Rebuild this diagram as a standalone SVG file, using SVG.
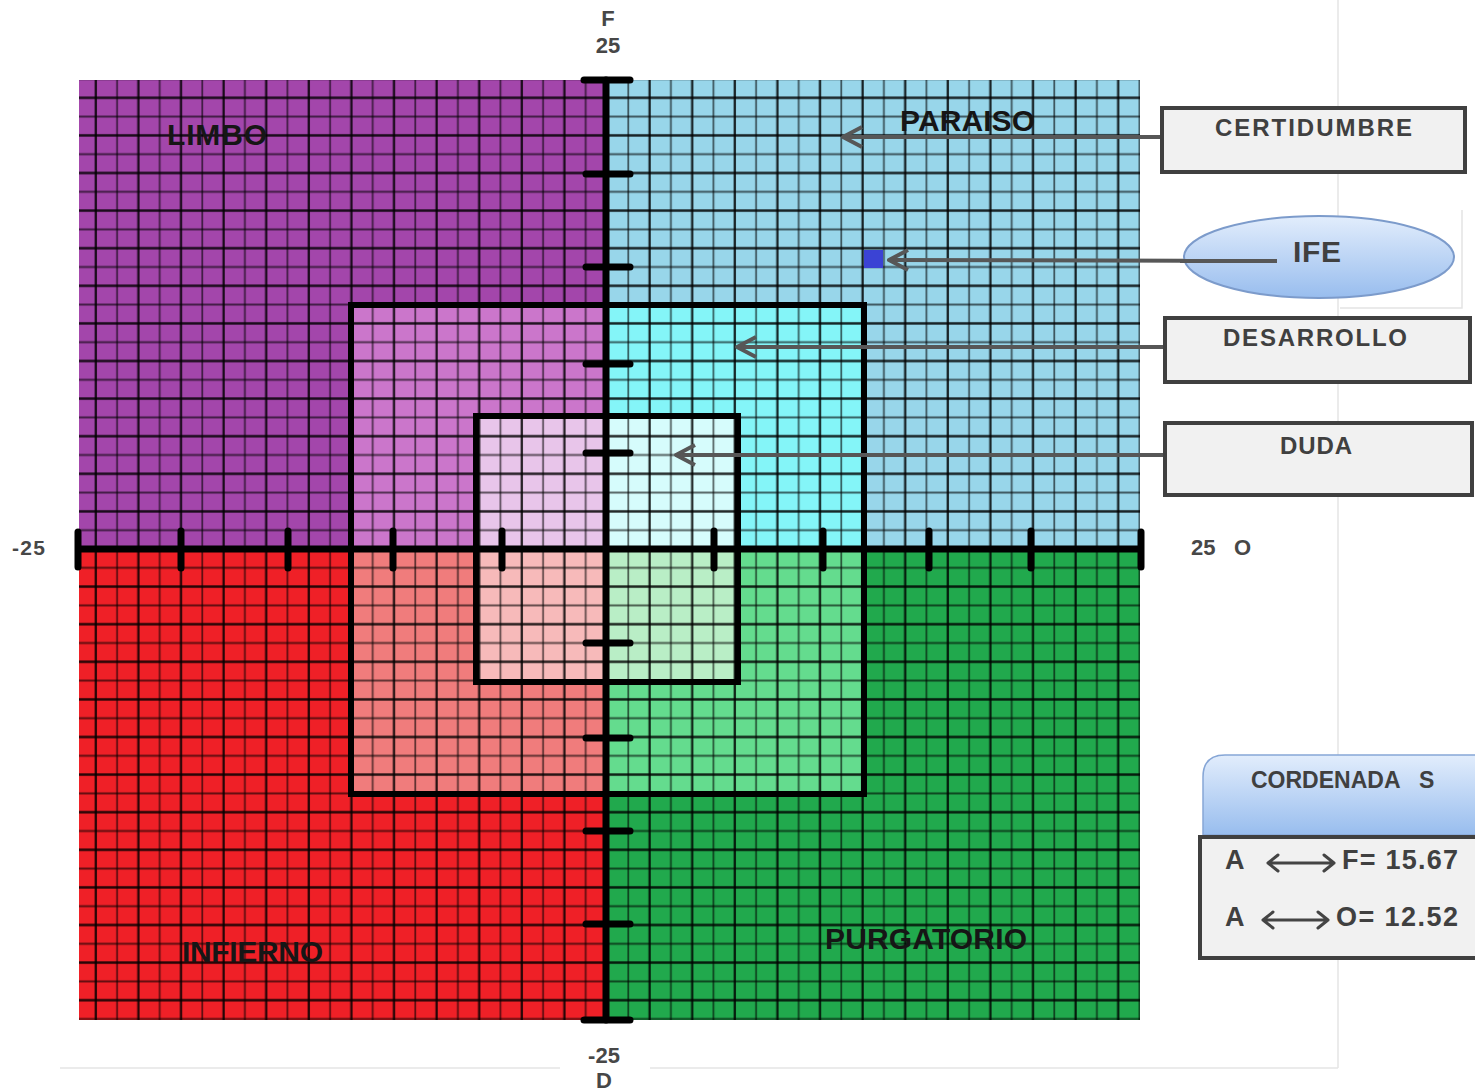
<svg xmlns="http://www.w3.org/2000/svg" width="1475" height="1091" viewBox="0 0 1475 1091">
  <defs>
    <style>
      .q{font-family:"Liberation Sans",Arial,sans-serif;font-weight:bold;font-size:30px;fill:#161616}
      .ax{font-family:"Liberation Sans",Arial,sans-serif;font-weight:bold;font-size:22px;fill:#474747}
      .lbl{font-family:"Liberation Sans",Arial,sans-serif;font-weight:bold;font-size:24px;fill:#404040}
      .val{font-family:"Liberation Sans",Arial,sans-serif;font-weight:bold;font-size:27px;fill:#404040}
      .box{fill:#f1f1f1;stroke:#404040;stroke-width:4}
      .con{stroke:#575757;stroke-width:4;fill:none;marker-end:url(#chev)}
      .frame{fill:none;stroke:#000;stroke-width:6}
      .axis{stroke:#000;stroke-width:7;stroke-linecap:round}
      .dbl{stroke:#444;stroke-width:3;fill:none;stroke-linecap:round;stroke-linejoin:round}
      .faint{stroke:#e4e4e4;stroke-width:1.5;fill:none}
    </style>
    <!-- two-cell grid tile: darker line on even units, lighter on odd -->
    <pattern id="grid" patternUnits="userSpaceOnUse" x="596.35" y="539.6" width="42.6" height="37.6">
      <line x1="10.65" y1="0" x2="10.65" y2="37.6" stroke="#000" stroke-width="2.3" stroke-opacity="0.85"/>
      <line x1="31.95" y1="0" x2="31.95" y2="37.6" stroke="#000" stroke-width="1.8" stroke-opacity="0.6"/>
      <line x1="0" y1="9.4" x2="42.6" y2="9.4" stroke="#000" stroke-width="2.3" stroke-opacity="0.85"/>
      <line x1="0" y1="28.2" x2="42.6" y2="28.2" stroke="#000" stroke-width="1.8" stroke-opacity="0.6"/>
    </pattern>
    <marker id="chev" markerUnits="userSpaceOnUse" viewBox="-24 -14 28 28" markerWidth="28" markerHeight="28" refX="0" refY="0" orient="auto">
      <path d="M-19,-10 L0,0 L-19,10" fill="none" stroke="#575757" stroke-width="4" stroke-linejoin="round"/>
    </marker>
    <linearGradient id="blueFill" x1="0" y1="0" x2="0" y2="1">
      <stop offset="0" stop-color="#e2edfc"/>
      <stop offset="1" stop-color="#98bdee"/>
    </linearGradient>
  </defs>

  <!-- faint page rules -->
  <g id="page-rules">
    <line class="faint" x1="1338" y1="0" x2="1338" y2="1068"/>
    <line class="faint" x1="60" y1="1068" x2="560" y2="1068"/>
    <line class="faint" x1="650" y1="1068" x2="1338" y2="1068"/>
    <polyline class="faint" points="1340,308 1462,308 1462,210"/>
  </g>

  <!-- quadrant plane -->
  <g id="plane">
    <rect x="79" y="80" width="527" height="469" fill="#A346AB"/>
    <rect x="606" y="80" width="534" height="469" fill="#98D6EA"/>
    <rect x="79" y="549" width="527" height="471" fill="#EF2027"/>
    <rect x="606" y="549" width="534" height="471" fill="#21A94D"/>

    <!-- middle square -->
    <rect x="351" y="305" width="255" height="244" fill="#CB76CB"/>
    <rect x="606" y="305" width="258" height="244" fill="#84F5F8"/>
    <rect x="351" y="549" width="255" height="245" fill="#F07C7C"/>
    <rect x="606" y="549" width="258" height="245" fill="#64DC8E"/>

    <!-- inner square -->
    <rect x="476" y="416" width="130" height="133" fill="#E8C5EA"/>
    <rect x="606" y="416" width="132" height="133" fill="#D6FCFC"/>
    <rect x="476" y="549" width="130" height="133" fill="#F7BABA"/>
    <rect x="606" y="549" width="132" height="133" fill="#B9EEC6"/>

    <rect x="79" y="80" width="1061" height="940" fill="url(#grid)"/>

    <rect class="frame" x="351" y="305" width="513" height="489"/>
    <rect class="frame" x="476" y="416" width="262" height="266"/>
  </g>

  <!-- axes with ticks -->
  <g id="axes">
    <line class="axis" x1="79" y1="549" x2="1140" y2="549"/>
    <line class="axis" x1="606" y1="80" x2="606" y2="1020"/>
    <!-- end caps -->
    <line class="axis" x1="584" y1="80" x2="630" y2="80"/>
    <line class="axis" x1="584" y1="1020" x2="630" y2="1020"/>
    <line class="axis" x1="78" y1="532" x2="78" y2="567"/>
    <line class="axis" x1="1141" y1="532" x2="1141" y2="567"/>
    <!-- x ticks -->
    <line class="axis" x1="181" y1="531" x2="181" y2="568"/>
    <line class="axis" x1="288" y1="531" x2="288" y2="568"/>
    <line class="axis" x1="393" y1="531" x2="393" y2="568"/>
    <line class="axis" x1="502" y1="531" x2="502" y2="568"/>
    <line class="axis" x1="714" y1="531" x2="714" y2="568"/>
    <line class="axis" x1="823" y1="531" x2="823" y2="568"/>
    <line class="axis" x1="929" y1="531" x2="929" y2="568"/>
    <line class="axis" x1="1031" y1="531" x2="1031" y2="568"/>
    <!-- y ticks -->
    <line class="axis" x1="586" y1="174" x2="630" y2="174"/>
    <line class="axis" x1="586" y1="267" x2="630" y2="267"/>
    <line class="axis" x1="586" y1="364" x2="630" y2="364"/>
    <line class="axis" x1="586" y1="453" x2="630" y2="453"/>
    <line class="axis" x1="586" y1="643" x2="630" y2="643"/>
    <line class="axis" x1="586" y1="738" x2="630" y2="738"/>
    <line class="axis" x1="586" y1="831" x2="630" y2="831"/>
    <line class="axis" x1="586" y1="924" x2="630" y2="924"/>
  </g>

  <!-- axis labels -->
  <g id="axis-labels">
    <text class="ax" x="608" y="26" text-anchor="middle">F</text>
    <text class="ax" x="608" y="53" text-anchor="middle">25</text>
    <text class="ax" x="12" y="555" style="font-size:21px" textLength="33">-25</text>
    <text class="ax" x="1191" y="555">25</text>
    <text class="ax" x="1234" y="555">O</text>
    <text class="ax" x="604" y="1063" text-anchor="middle">-25</text>
    <text class="ax" x="604" y="1088" text-anchor="middle">D</text>
  </g>

  <!-- quadrant names -->
  <g id="quadrant-names">
    <text class="q" x="167" y="145" textLength="100">LIMBO</text>
    <text class="q" x="900" y="131" textLength="135">PARAISO</text>
    <text class="q" x="182" y="962" textLength="141">INFIERNO</text>
    <text class="q" x="825" y="949" textLength="202">PURGATORIO</text>
  </g>

  <!-- IFE position point -->
  <rect id="ife-point" x="864" y="250" width="19" height="18" fill="#3B43D4"/>

  <!-- connectors -->
  <g id="connectors">
    <line class="con" x1="1162" y1="137" x2="843" y2="137"/>
    <line class="con" x1="1277" y1="261" x2="889" y2="260"/>
    <line class="con" x1="1165" y1="347" x2="737" y2="347"/>
    <line class="con" x1="1165" y1="455" x2="676" y2="455"/>
  </g>

  <g id="node-certidumbre">
    <rect class="box" x="1162" y="108" width="303" height="64"/>
    <text class="lbl" x="1215" y="136" textLength="197">CERTIDUMBRE</text>
  </g>

  <g id="node-ife">
    <ellipse cx="1319" cy="257" rx="135" ry="41" fill="url(#blueFill)" stroke="#7c9bcb" stroke-width="2"/>
    <line x1="1180" y1="261" x2="1277" y2="261" stroke="#575757" stroke-width="4"/>
    <text class="lbl" x="1293" y="262" style="font-size:30px" textLength="48">IFE</text>
  </g>

  <g id="node-desarrollo">
    <rect class="box" x="1165" y="318" width="305" height="64"/>
    <text class="lbl" x="1223" y="346" textLength="184">DESARROLLO</text>
  </g>

  <g id="node-duda">
    <rect class="box" x="1165" y="423" width="307" height="72"/>
    <text class="lbl" x="1280" y="454" textLength="72">DUDA</text>
  </g>

  <g id="node-cordenadas">
    <path d="M1203,835 L1203,777 Q1203,755 1225,755 L1480,755 L1480,835 Z" fill="url(#blueFill)" stroke="#86a6d6" stroke-width="1.5"/>
    <text class="lbl" x="1251" y="788" style="font-size:23px">CORDENADA<tspan x="1419">S</tspan></text>
  </g>

  <g id="node-coordinates">
    <rect class="box" x="1200" y="837" width="290" height="121"/>
    <text class="val" x="1225" y="869">A</text>
    <path class="dbl" d="M1268,863 H1334 M1278,855 L1268,863 L1278,871 M1324,855 L1334,863 L1324,871"/>
    <text class="val" x="1342" y="869" textLength="116">F= 15.67</text>
    <text class="val" x="1225" y="926">A</text>
    <path class="dbl" d="M1263,920 H1328 M1273,912 L1263,920 L1273,928 M1318,912 L1328,920 L1318,928"/>
    <text class="val" x="1336" y="926" textLength="122">O= 12.52</text>
  </g>
</svg>
